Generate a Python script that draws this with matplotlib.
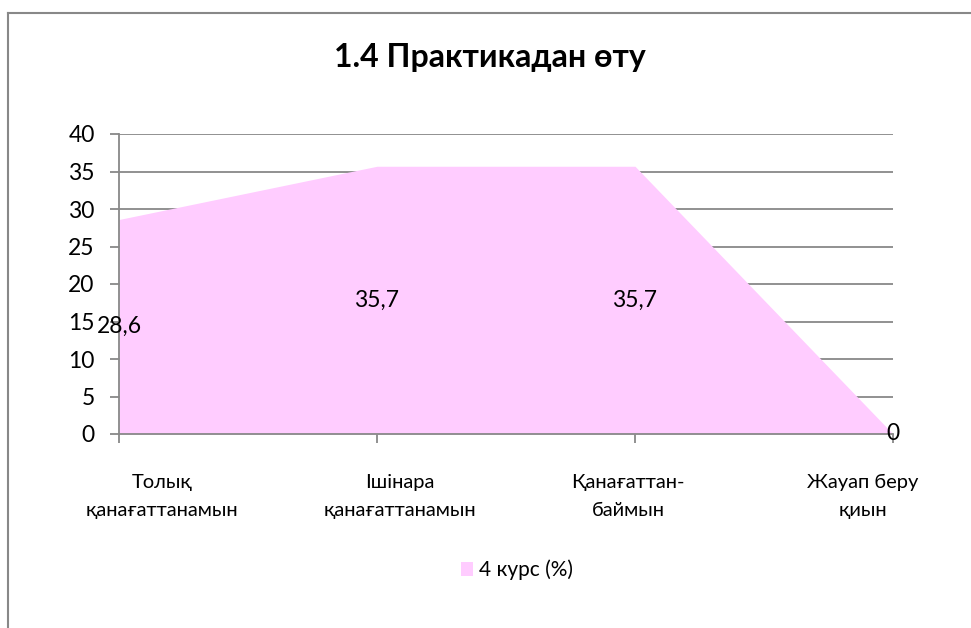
import matplotlib
matplotlib.use("Agg")
import matplotlib.pyplot as plt
from matplotlib.lines import Line2D
from matplotlib.patches import Patch

plt.rcParams['font.family'] = ['Lato', 'DejaVu Sans']

title = "1.4 Практикадан өту"
categories = ["Толық\nқанағаттанамын", "Ішінара\nқанағаттанамын",
              "Қанағаттан-\nбаймын", "Жауап беру\nқиын"]
values = [28.6, 35.7, 35.7, 0]
value_labels = ["28,6", "35,7", "35,7", "0"]
series_name = "4 курс (%)"
yticks = [0, 5, 10, 15, 20, 25, 30, 35, 40]

# label offsets (points) to mimic the source layout
label_dx = [31, 16.5, -5, -22]

W, H = 971, 628
fig = plt.figure(figsize=(W / 100, H / 100), dpi=100)
fig.patch.set_facecolor('white')

# outer chart frame (left + top visible)
fig.add_artist(Line2D([8 / W, 8 / W], [0, 1 - 13 / H], transform=fig.transFigure,
                      color='#888888', lw=1.5))
fig.add_artist(Line2D([8 / W, 1], [1 - 13 / H, 1 - 13 / H], transform=fig.transFigure,
                      color='#888888', lw=1.5))

left, right, top, bottom = 119, 893, 134, 434
ax = fig.add_axes([left / W, 1 - bottom / H, (right - left) / W, (bottom - top) / H])

x = list(range(len(categories)))
ax.fill_between(x, values, 0, color='#FFCCFF', lw=0, zorder=2)

ax.set_xlim(0, len(categories) - 1)
ax.set_ylim(0, 40)
ax.set_yticks(yticks)
ax.set_yticklabels([str(t) for t in yticks])
ax.yaxis.grid(True, color='#888888', lw=1.3, zorder=1)
ax.set_axisbelow(True)

for s in ['top', 'right']:
    ax.spines[s].set_visible(False)
for s in ['left', 'bottom']:
    ax.spines[s].set_color('#888888')
    ax.spines[s].set_linewidth(1.3)
    ax.spines[s].set_zorder(3)

ax.tick_params(axis='y', length=6.5, width=1.3, color='#888888', labelsize=16.5, pad=11,
               labelcolor='black')
ax.set_xticks(x)
ax.set_xticklabels([''] * len(x))
ax.tick_params(axis='x', length=6.5, width=1.3, color='#888888')

for i, (c, dx) in enumerate(zip(categories, label_dx)):
    ax.annotate(c, xy=(i, 0), xycoords='data', xytext=(dx, -45),
                textcoords='offset points', ha='center', va='center',
                fontsize=14.5, linespacing=1.75, multialignment='center')

for i, (v, lab) in enumerate(zip(values, value_labels)):
    ax.text(i, v / 2, lab, ha='center', va='center', fontsize=16.5, zorder=4)

fig.text(490 / W, 1 - 57 / H, title, ha='center', va='center', fontsize=23,
         fontweight='bold')

handle = Patch(facecolor='#FFCCFF', edgecolor='none')
fig.legend([handle], [series_name], loc='center right', bbox_to_anchor=(588 / W, 1 - 570 / H),
           frameon=False, fontsize=15, handlelength=0.6, handleheight=0.6,
           handletextpad=0.3, borderpad=0.2)

fig.savefig('out.png', dpi=100, facecolor='white')
